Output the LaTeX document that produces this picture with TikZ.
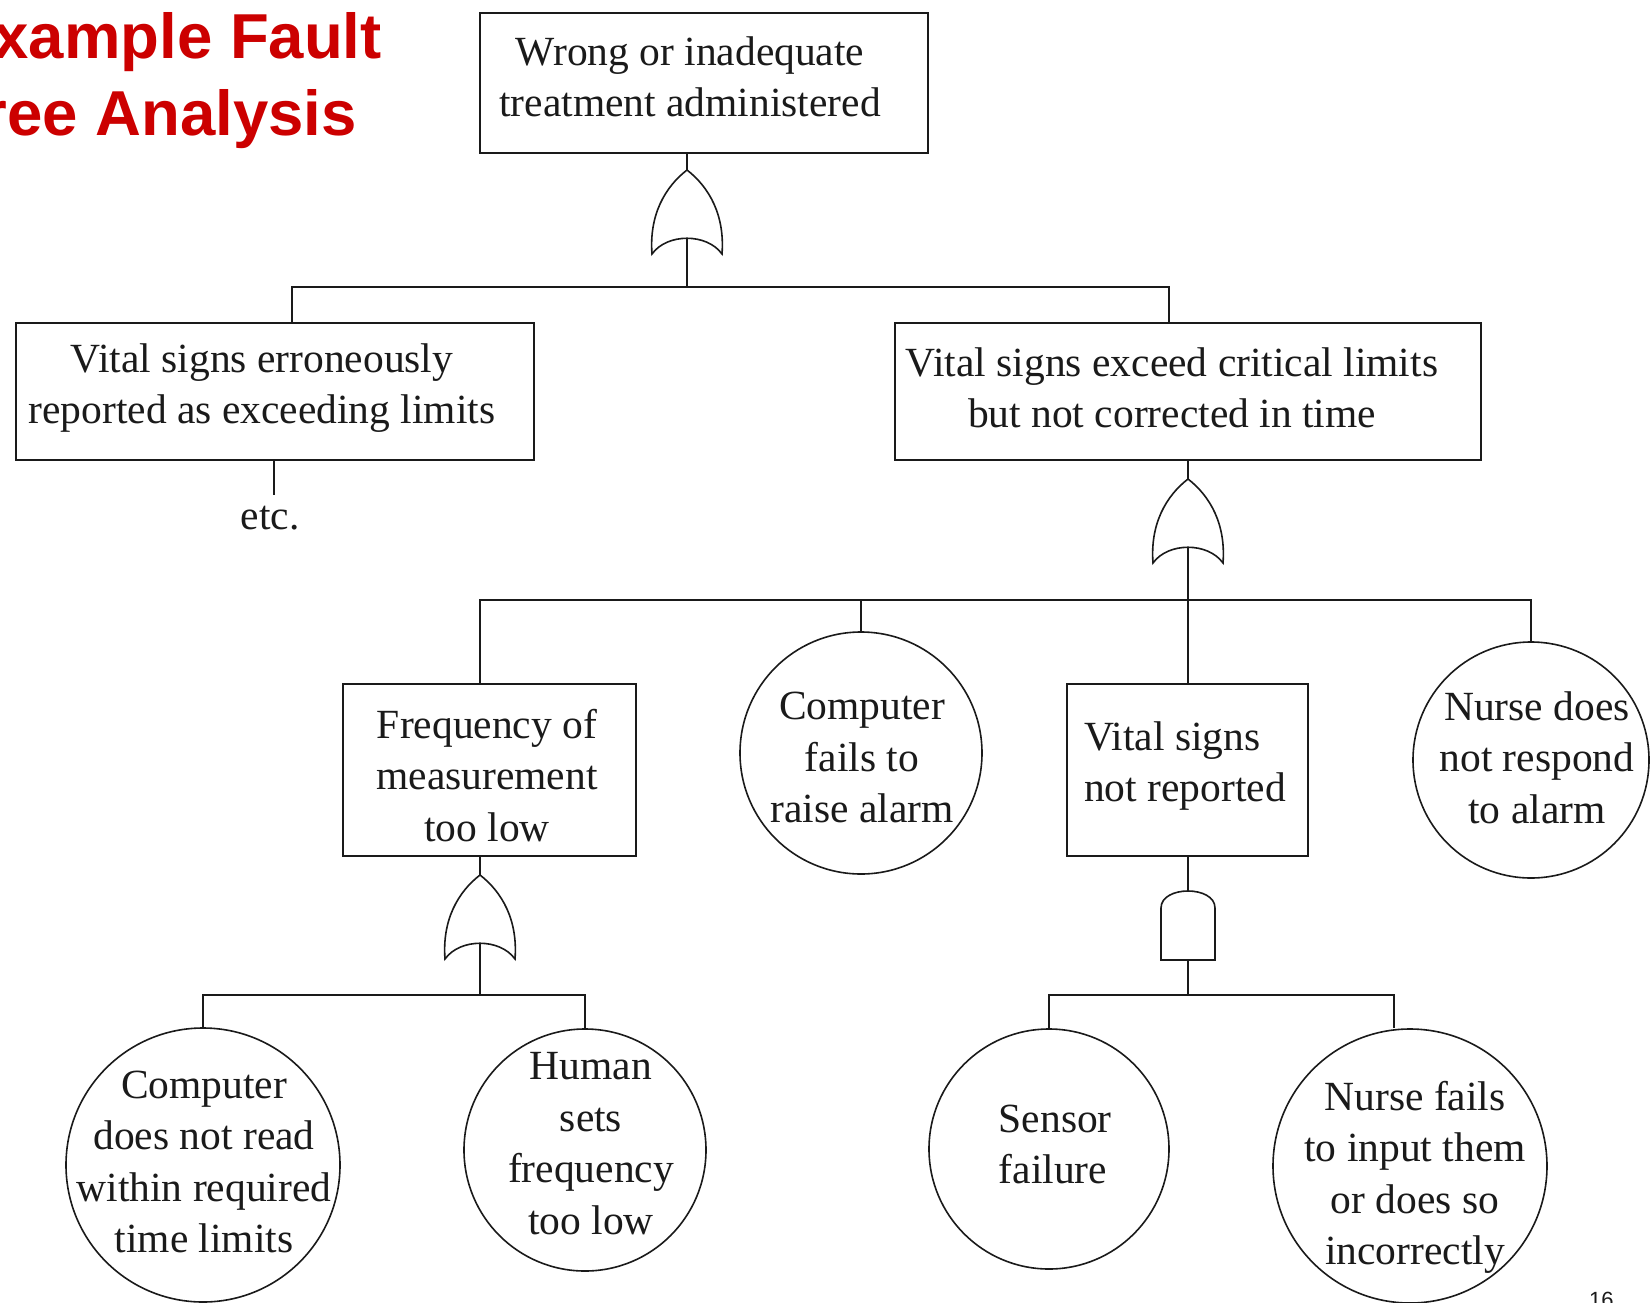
\documentclass[tikz,border=0pt]{standalone}
\usepackage{fontspec}
\setmainfont{Liberation Serif}
\newfontfamily\titlefont{Liberation Sans}
\usetikzlibrary{calc}
\definecolor{ink}{HTML}{1A1A1A}
\definecolor{titlered}{HTML}{CC0000}

\begin{document}
\begin{tikzpicture}[x=1pt,y=-1pt,
  box/.style={draw=ink, line width=2.2pt, inner sep=0, rectangle},
  evt/.style={draw=ink, line width=1.6pt, circle, inner sep=0},
  lbl/.style={align=center, font=\fontsize{41.5pt}{51.5pt}\selectfont, text=ink, inner sep=0},
  wire/.style={draw=ink, line width=2pt},
  gate/.style={draw=ink, line width=1.6pt, fill=white},
  orgate/.pic={
    \draw[gate] (-35,84) .. controls (-38,45) and (-22,17) .. (0,0)
                .. controls (22,17) and (38,45) .. (35,84)
                .. controls (20,63) and (-20,63) .. cycle;
    \coordinate (-in) at (0,0);
    \coordinate (-out) at (0,68);
  },
  andgate/.pic={
    \draw[gate] (-27,69) -- (-27,17) .. controls (-27,-5.7) and (27,-5.7) .. (27,17)
                -- (27,69) -- cycle;
    \coordinate (-in) at (0,0);
    \coordinate (-out) at (0,69);
  }]

% page frame
\path[use as bounding box] (0,0) rectangle (1650,1302);
\clip (0,0) rectangle (1650,1302);
\fill[white] (0,0) rectangle (1650,1302);

% heading
\node[anchor=base east, inner sep=0, text=titlered,
      font=\titlefont\bfseries\fontsize{63.5pt}{70pt}\selectfont] (title1) at (382,58) {Example Fault};
\node[anchor=base east, inner sep=0, text=titlered,
      font=\titlefont\bfseries\fontsize{63.5pt}{70pt}\selectfont] (title2) at (357,135) {Tree Analysis};

% event boxes
\node[box, minimum width=448pt, minimum height=140pt] (top)   at (704,83) {};
\node[box, minimum width=518pt, minimum height=137pt] (left)  at (275,391.5) {};
\node[box, minimum width=586pt, minimum height=137pt] (right) at (1188,391.5) {};
\node[box, minimum width=293pt, minimum height=172pt] (freq)  at (489.5,770) {};
\node[box, minimum width=241pt, minimum height=172pt] (vital) at (1187.5,770) {};

% basic events
\node[evt, minimum size=242pt] (cf) at (861,753) {};
\node[evt, minimum size=236pt] (nd) at (1531,760) {};
\node[evt, minimum size=274pt] (cr) at (203,1165) {};
\node[evt, minimum size=242pt] (hs) at (585,1150) {};
\node[evt, minimum size=240pt] (sf) at (1049,1149) {};
\node[evt, minimum size=274pt] (nf) at (1410,1166) {};

% labels
\node[lbl] (ttop)   at (690,77)    {Wrong or inadequate\\treatment administered};
\node[lbl] (tleft)  at (262,388)   {Vital signs erroneously\\reported as exceeding limits};
\node[lbl] (tright) at (1172,388)  {Vital signs exceed critical limits\\but not corrected in time};
\node[lbl] (tfreq)  at (487,775.5) {Frequency of\\measurement\\too low};
\node[lbl] (tcf)    at (862,757.7) {Computer\\fails to\\raise alarm};
\node[lbl, align=left, anchor=west] (tvital) at (1084,766) {Vital signs\\not reported};
\node[lbl] (tnd)    at (1537,757.7) {Nurse does\\not respond\\to alarm};
\node[lbl] (tcr)    at (204,1162)  {Computer\\does not read\\within required\\time limits};
\node[lbl] (ths)    at (591,1143.5) {Human\\sets\\frequency\\too low};
\node[lbl, align=left, anchor=west] (tsf) at (998.6,1144.4) {Sensor\\failure};
\node[lbl] (tnf)    at (1415,1177.5) {Nurse fails\\to input them\\or does so\\incorrectly};
\node[lbl] (etc)    at (270,518)   {etc.};

% gates
\pic (g1) at (687,170) {orgate};
\pic (g2) at (1188,479) {orgate};
\pic (g3) at (480,875) {orgate};
\pic (g4) at (1188,891) {andgate};

% junction points on the horizontal bars
\coordinate (j1L) at (291.5,287);
\coordinate (j1R) at (1169,287);
\coordinate (j2L) at (480,600);
\coordinate (j2R) at (1531,600);
\coordinate (j3L) at (203,994.5);
\coordinate (j3R) at (585,994.5);
\coordinate (j4L) at (1049,994.5);
\coordinate (j4R) at (1394,994.5);
\coordinate (etcpt) at (273.5,495);

% connectors
\draw[wire] (top.south -| g1-in) -- (g1-in);
\draw[wire] (g1-out) -- (g1-out |- j1L);
\draw[wire] (left.north -| j1L) -- (j1L) -- (j1R) -- (right.north -| j1R);
\draw[wire] (left.south -| etcpt) -- (etcpt);

\draw[wire] (right.south -| g2-in) -- (g2-in);
\draw[wire] (g2-out) -- (vital.north -| g2-out);
\draw[wire] (freq.north -| j2L) -- (j2L) -- (j2R) -- (nd.north);
\draw[wire] (cf.north |- j2L) -- (cf.north);

\draw[wire] (freq.south -| g3-in) -- (g3-in);
\draw[wire] (g3-out) -- (g3-out |- j3L);
\draw[wire] (cr.north) -- (j3L) -- (j3R) -- (hs.north);

\draw[wire] (vital.south -| g4-in) -- (g4-in);
\draw[wire] (g4-out) -- (g4-out |- j4L);
\draw[wire] (sf.north) -- (j4L) -- (j4R) -- (j4R |- nf.north);

% page number
\node[anchor=north west, inner sep=0, text=ink,
      font=\titlefont\fontsize{22pt}{24pt}\selectfont] (pageno) at (1589,1292) {16};
\end{tikzpicture}
\end{document}
